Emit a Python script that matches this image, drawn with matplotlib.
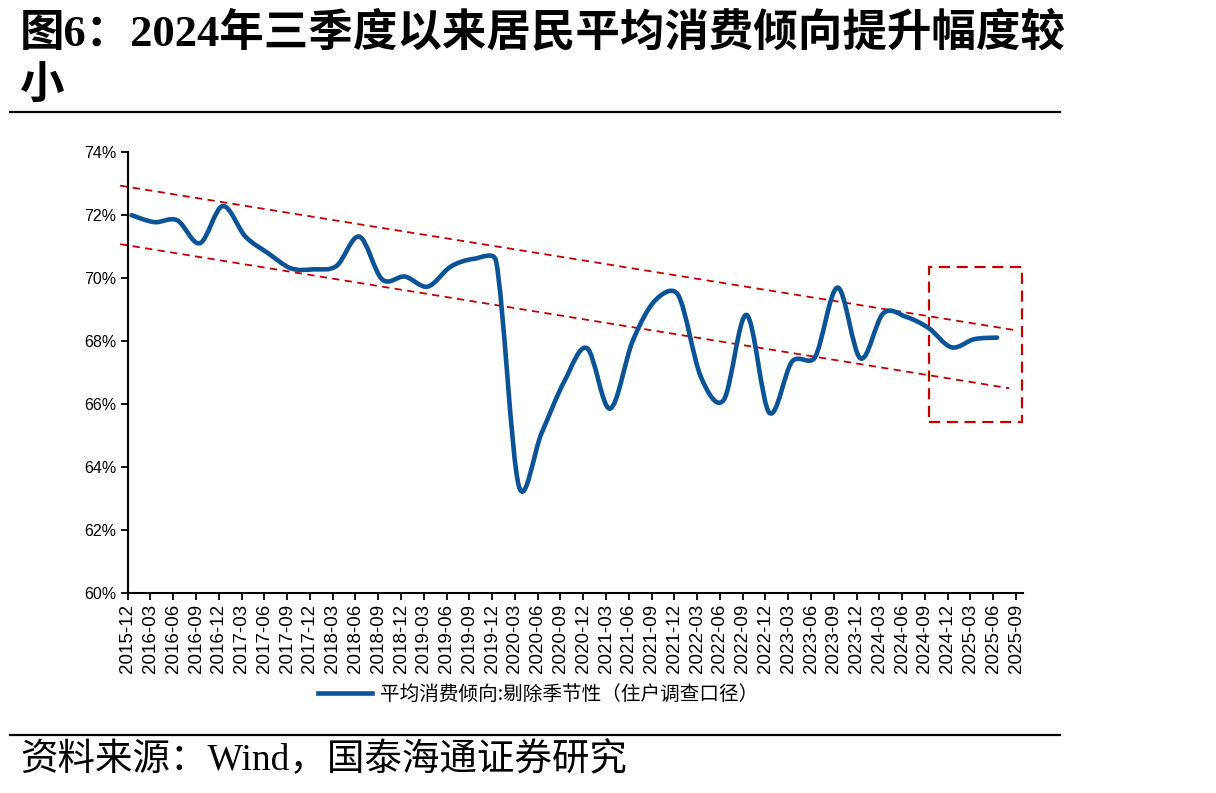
# 居民平均消费倾向（剔除季节性）折线图
import numpy as np
import matplotlib.pyplot as plt
from matplotlib.path import Path
from matplotlib.patches import PathPatch, Rectangle
from matplotlib.lines import Line2D

plt.rcParams['font.family'] = ['Liberation Sans', 'Noto Sans CJK SC']

# x轴标签（季度）
quarters = ['2015-12', '2016-03', '2016-06', '2016-09', '2016-12', '2017-03', '2017-06', '2017-09',
            '2017-12', '2018-03', '2018-06', '2018-09', '2018-12', '2019-03', '2019-06', '2019-09',
            '2019-12', '2020-03', '2020-06', '2020-09', '2020-12', '2021-03', '2021-06', '2021-09',
            '2021-12', '2022-03', '2022-06', '2022-09', '2022-12', '2023-03', '2023-06', '2023-09',
            '2023-12', '2024-03', '2024-06', '2024-09', '2024-12', '2025-03', '2025-06', '2025-09']
# 平均消费倾向:剔除季节性（%），2015-12 到 2025-06
apc = [72.0, 71.78, 71.84, 71.11, 72.29, 71.32, 70.79, 70.31,
       70.28, 70.39, 71.32, 69.96, 70.05, 69.73, 70.36, 70.61,
       70.55, 63.4, 65.07, 66.72, 67.77, 65.85, 68.0, 69.3,
       69.46, 66.85, 66.13, 68.83, 65.72, 67.35, 67.48, 69.7,
       67.45, 68.88, 68.77, 68.41, 67.8, 68.06, 68.11]

# 红色虚线趋势通道（x为季度序号）
upper_x = [-0.33, 39.1]
upper_y = [72.94, 68.33]
lower_x = [-0.33, 38.7]
lower_y = [71.08, 66.5]
# 红框范围
box_x = [35.2, 39.28]
box_y = [65.44, 70.36]

blue = '#0a5396'
red = '#c00000'
W, H = 1216, 793

fig = plt.figure(figsize=(W / 100, H / 100), dpi=100)
ax = fig.add_axes([127.7 / W, 1 - 592.7 / H, (1023.3 - 127.7) / W, (592.7 - 152.3) / H])

# 平滑曲线：Catmull-Rom式贝塞尔段，控制柄不超过段长的0.45（屏幕尺度下）
sx, sy = 22.8, 31.46
x = np.arange(len(apc)) + 0.17
pts = np.column_stack([x * sx, np.array(apc) * sy])
n = len(pts)


def handle(v, d, k=0.45):
    m = np.linalg.norm(v)
    return v if m <= k * d else v * (k * d / m)


verts = [pts[0]]
codes = [Path.MOVETO]
for i in range(n - 1):
    p0 = pts[max(i - 1, 0)]
    p1 = pts[i]
    p2 = pts[i + 1]
    p3 = pts[min(i + 2, n - 1)]
    d = np.linalg.norm(p2 - p1)
    verts += [p1 + handle((p2 - p0) / 6, d), p2 - handle((p3 - p1) / 6, d), p2]
    codes += [Path.CURVE4] * 3
verts = np.array(verts) / [sx, sy]
ax.add_patch(PathPatch(Path(verts, codes), fill=False, edgecolor=blue, lw=3.3,
                       capstyle='round', joinstyle='round', zorder=3))

# 趋势线和红框
ax.plot(upper_x, upper_y, color=red, lw=1.3, ls=(0, (4, 3)), clip_on=False, zorder=2)
ax.plot(lower_x, lower_y, color=red, lw=1.3, ls=(0, (4, 3)), clip_on=False, zorder=2)
ax.add_patch(Rectangle((box_x[0], box_y[0]), box_x[1] - box_x[0], box_y[1] - box_y[0],
                       fill=False, edgecolor=red, lw=1.6, ls=(0, (5, 3)), clip_on=False, zorder=2))

ax.set_xlim(0, 39.32)
ax.set_ylim(60, 74)
ax.set_xticks(range(len(quarters)))
ax.set_xticklabels(quarters, rotation=90)
ax.set_yticks(range(60, 75, 2))
ax.set_yticklabels([f'{v}%' for v in range(60, 75, 2)])
ax.tick_params(axis='x', length=5, width=1.3, labelsize=13.5, pad=3)
ax.tick_params(axis='y', length=5, width=1.3, labelsize=11.5, pad=3)
for s in ['top', 'right']:
    ax.spines[s].set_visible(False)
for s in ['left', 'bottom']:
    ax.spines[s].set_linewidth(1.5)

# 图例
fig.legend(handles=[Line2D([], [], color=blue, lw=3.3)],
           labels=['平均消费倾向:剔除季节性（住户调查口径）'],
           loc='center', bbox_to_anchor=(538 / W, 1 - 694 / H), frameon=False,
           handlelength=2.8, handletextpad=0.4,
           prop={'family': ['Noto Sans CJK SC'], 'size': 14.1})

# 标题、分隔线、来源
tfam = ['Liberation Serif', 'Noto Sans CJK SC']
fig.text(20 / W, 1 - 33 / H, '图6：2024年三季度以来居民平均消费倾向提升幅度较', fontsize=32,
         fontweight='bold', family=tfam, va='center', ha='left')
fig.text(20 / W, 1 - 86 / H, '小', fontsize=32, fontweight='bold', family=tfam, va='center', ha='left')
fig.add_artist(Line2D([10 / W, 1060 / W], [1 - 112 / H] * 2, color='black', lw=1.6))
fig.add_artist(Line2D([10 / W, 1060 / W], [1 - 735 / H] * 2, color='black', lw=1.6))
fig.text(20 / W, 1 - 760 / H, '资料来源：Wind，国泰海通证券研究', fontsize=27,
         family=tfam, va='center', ha='left')

fig.savefig('out.png', dpi=100)
